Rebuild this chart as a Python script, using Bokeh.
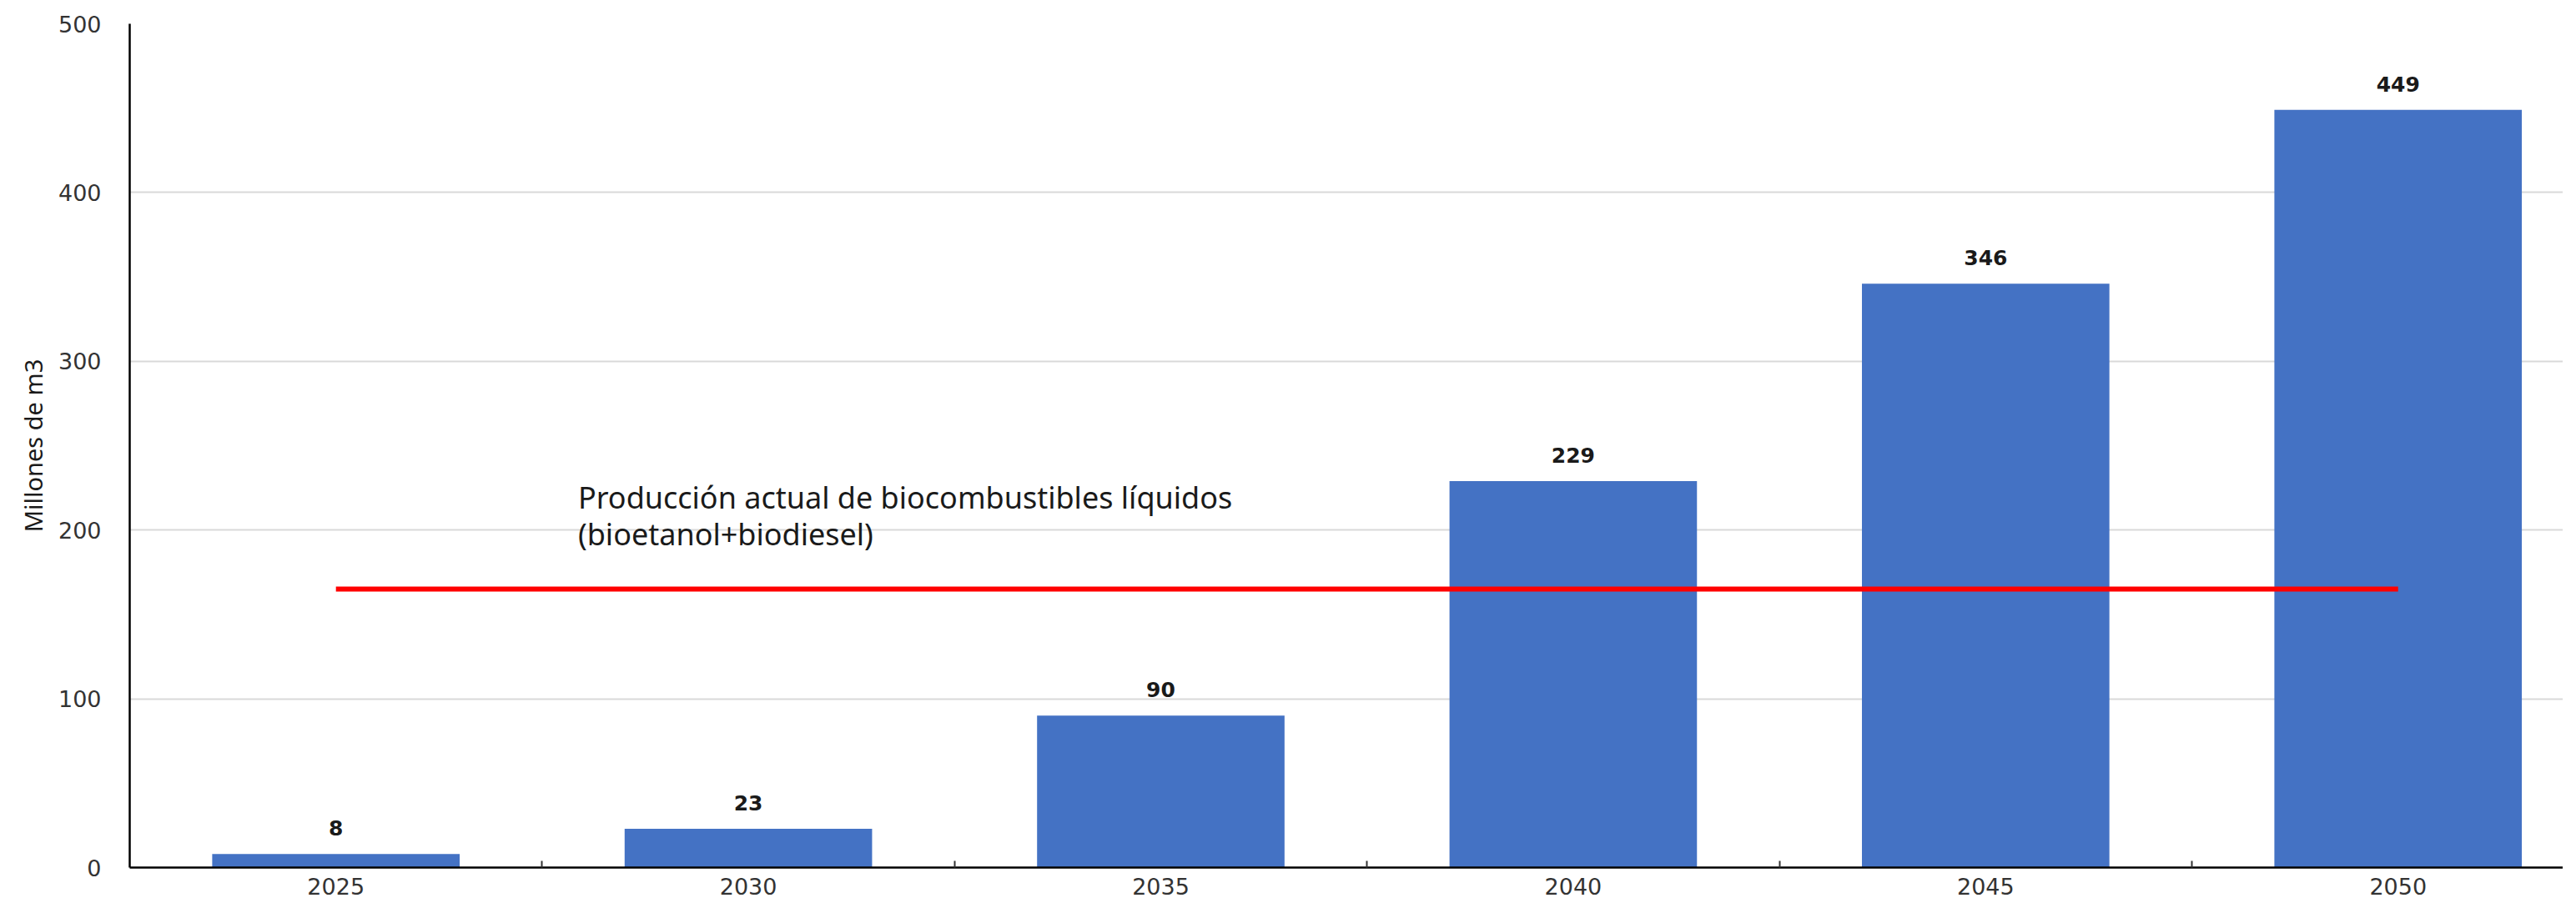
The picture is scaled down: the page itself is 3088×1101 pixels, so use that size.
from bokeh.plotting import figure
from bokeh.models import Range1d, FixedTicker, Label, ColumnDataSource
from bokeh.embed import file_html
from bokeh.resources import INLINE
from bokeh.core.properties import value

# ---- data ----
years = ["2025", "2030", "2035", "2040", "2045", "2050"]
demand = [8, 23, 90, 229, 346, 449]
current_production = 165
y_ticks = [0, 100, 200, 300, 400, 500]
annotation_lines = ["Producción actual de biocombustibles líquidos", "(bioetanol+biodiesel)"]

positions = list(range(len(years)))
boundaries = [i + 0.5 for i in positions[:-1]]

src = ColumnDataSource(dict(x=positions, top=demand, label=[str(v) for v in demand]))

p = figure(width=3072, height=1085, output_backend="svg", toolbar_location=None,
           x_range=Range1d(-0.5, 5.40), y_range=Range1d(0, 500),
           min_border_left=155, min_border_top=28, min_border_bottom=45, min_border_right=0)
p.outline_line_color = None
p.background_fill_color = "white"
p.border_fill_color = "white"

p.vbar(x="x", top="top", width=0.6, source=src, fill_color="#4472C4", line_color=None)

p.text(x="x", y="top", text="label", source=src, text_align="center", text_baseline="alphabetic",
       y_offset=-31, text_font=value("DejaVu Sans"), text_font_style="bold",
       text_font_size="25px", text_color="#1a1a1a")

p.line(x=[positions[0], positions[-1]], y=[current_production, current_production],
       line_color="#FF0000", line_width=6)

for i, t in enumerate(annotation_lines):
    p.add_layout(Label(x=0.587, y=219.5 - i * 22.1, text=t, text_align="left",
                       text_baseline="middle", text_font="Noto Sans", text_font_size="36px",
                       text_color="#1a1a1a"))

# axes
xa = p.xaxis[0]
xa.ticker = FixedTicker(ticks=positions, minor_ticks=boundaries)
xa.major_label_overrides = {i: y for i, y in zip(positions, years)}
xa.major_tick_in = 0
xa.major_tick_out = 0
xa.minor_tick_in = 8
xa.minor_tick_out = 0
xa.minor_tick_line_color = "#333333"
xa.minor_tick_line_width = 2
xa.axis_line_color = "black"
xa.axis_line_width = 2.5
xa.major_label_standoff = 12
xa.major_label_text_font = "DejaVu Sans"
xa.major_label_text_font_size = "27px"
xa.major_label_text_color = "#333333"

ya = p.yaxis[0]
ya.ticker = FixedTicker(ticks=y_ticks)
ya.major_tick_in = 0
ya.major_tick_out = 0
ya.minor_tick_line_color = None
ya.axis_line_color = "black"
ya.axis_line_width = 2.5
ya.major_label_standoff = 34
ya.major_label_text_font = "DejaVu Sans"
ya.major_label_text_font_size = "27px"
ya.major_label_text_color = "#333333"
ya.axis_label = "Millones de m3"
ya.axis_label_text_font = "Noto Sans"
ya.axis_label_text_font_size = "29px"
ya.axis_label_text_font_style = "normal"
ya.axis_label_text_color = "#1a1a1a"
ya.axis_label_standoff = 8

p.xgrid.grid_line_color = None
p.ygrid.ticker = FixedTicker(ticks=y_ticks)
p.ygrid.grid_line_color = "#d9d9d9"
p.ygrid.grid_line_width = 2

open("out.html", "w").write(file_html(p, INLINE))
